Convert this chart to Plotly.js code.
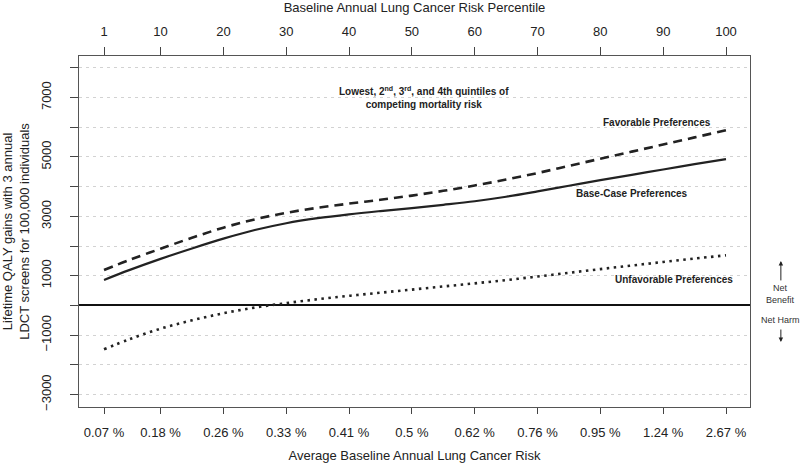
<!DOCTYPE html>
<html>
<head>
<meta charset="utf-8">
<script src="https://cdn.plot.ly/plotly-3.0.1.min.js"></script>
<style>
  html, body { margin: 0; padding: 0; background: #fff; }
  #plot { width: 800px; height: 465px; }
</style>
</head>
<body>
<div id="plot"></div>
<script>
// risk percentile (x) and the QALY gains
let percentiles = [1, 5, 10, 15, 20, 25, 30, 35, 40, 45, 50, 55, 60, 65, 70, 75, 80, 85, 90, 95, 100];
let baseCase = [860, 1190, 1570, 1920, 2250, 2540, 2770, 2940, 3070, 3180, 3280, 3390, 3510, 3660, 3840, 4030, 4220, 4400, 4580, 4760, 4930];
let favorable = [1195, 1530, 1910, 2280, 2620, 2900, 3120, 3290, 3430, 3560, 3700, 3860, 4040, 4240, 4460, 4700, 4940, 5180, 5420, 5660, 5900];
let unfavorable = [-1475, -1140, -780, -500, -260, -70, 80, 210, 325, 430, 535, 640, 745, 855, 975, 1100, 1225, 1345, 1465, 1580, 1690];

// tick labels
let pctTicks = [1, 10, 20, 30, 40, 50, 60, 70, 80, 90, 100];
let riskLabels = ["0.07 %", "0.18 %", "0.26 %", "0.33 %", "0.41 %", "0.5 %", "0.62 %", "0.76 %", "0.95 %", "1.24 %", "2.67 %"];
let yTicks = [-3000, -2000, -1000, 0, 1000, 2000, 3000, 4000, 5000, 6000, 7000, 8000];
let yLabels = ["\u22123000", "", "\u22121000", "", "1000", "", "3000", "", "5000", "", "7000", ""];

let font = "Liberation Sans, Arial, Helvetica, sans-serif";
let ink = "#222";

let favTrace = {
    x: percentiles, y: favorable,
    mode: "lines", type: "scatter",
    line: {color: ink, width: 2.6, dash: "9px,6px", shape: "spline", smoothing: 1},
    hoverinfo: "skip"
};
let baseTrace = {
    x: percentiles, y: baseCase,
    mode: "lines", type: "scatter",
    line: {color: ink, width: 2.2, shape: "spline", smoothing: 1},
    hoverinfo: "skip"
};
let unfavTrace = {
    x: percentiles, y: unfavorable,
    mode: "lines", type: "scatter",
    line: {color: ink, width: 2.6, dash: "2.5px,4.5px", shape: "spline", smoothing: 1},
    hoverinfo: "skip"
};
// invisible trace so the top axis gets drawn
let topTrace = {
    x: percentiles, y: baseCase, xaxis: "x2",
    mode: "none", type: "scatter", hoverinfo: "skip"
};

let xRange = [-2.98, 103.82];

let layout = {
    width: 800, height: 465,
    margin: {l: 79, r: 50, t: 56, b: 58},
    paper_bgcolor: "#fff", plot_bgcolor: "#fff",
    showlegend: false,
    font: {family: font, size: 13, color: ink},
    xaxis: {
        range: xRange,
        tickmode: "array", tickvals: pctTicks, ticktext: riskLabels,
        ticks: "outside", ticklen: 6, tickcolor: "#444", tickwidth: 1,
        ticklabelstandoff: 7,
        showgrid: false, zeroline: false,
        showline: true, linecolor: "#555", linewidth: 1, mirror: false,
        title: {text: "Average Baseline Annual Lung Cancer Risk", font: {size: 13}, standoff: 12}
    },
    xaxis2: {
        range: xRange, overlaying: "x", side: "top",
        tickmode: "array", tickvals: pctTicks,
        ticktext: pctTicks.map(String),
        ticks: "outside", ticklen: 8, tickcolor: "#444", tickwidth: 1,
        ticklabelstandoff: 6,
        showgrid: false, zeroline: false,
        showline: true, linecolor: "#555", linewidth: 1,
        title: {text: "Baseline Annual Lung Cancer Risk Percentile", font: {size: 13}, standoff: 9}
    },
    yaxis: {
        range: [-3418, 8400],
        tickmode: "array", tickvals: yTicks, ticktext: yLabels,
        tickangle: -90,
        ticks: "outside", ticklen: 8, tickcolor: "#444", tickwidth: 1,
        ticklabelstandoff: 14,
        showgrid: true, gridcolor: "#d2d2d2", gridwidth: 1, griddash: "3px,4px",
        zeroline: true, zerolinecolor: "#111", zerolinewidth: 2,
        showline: true, linecolor: "#555", linewidth: 1, mirror: true,
        title: {text: "Lifetime QALY gains with 3 annual<br>LDCT screens for 100,000 individuals", font: {size: 13}, standoff: 11}
    },
    annotations: [
        {xref: "x", yref: "y", x: 52, y: 7000, yanchor: "middle",
         text: "<b>Lowest, 2<sup>nd</sup>, 3<sup>rd</sup>, and 4th quintiles of<br>competing mortality risk</b>",
         showarrow: false, font: {size: 10, color: ink}},
        {xref: "x", yref: "y", x: 89, y: 6170, text: "<b>Favorable Preferences</b>",
         showarrow: false, font: {size: 10, color: ink}},
        {xref: "x", yref: "y", x: 85, y: 3770, text: "<b>Base-Case Preferences</b>",
         showarrow: false, font: {size: 10, color: ink}},
        {xref: "x", yref: "y", x: 91.7, y: 890, text: "<b>Unfavorable Preferences</b>",
         showarrow: false, font: {size: 10, color: ink}},
        {xref: "paper", yref: "y", x: 1.046, y: 370, xanchor: "center", text: "Net<br>Benefit",
         showarrow: false, font: {size: 9, color: "#333"}},
        {xref: "paper", yref: "y", x: 1.046, y: -490, xanchor: "center", text: "Net Harm",
         showarrow: false, font: {size: 9, color: "#333"}},
        {xref: "paper", yref: "y", x: 1.046, y: 1500, text: "",
         showarrow: true, ax: 0, ay: 21, arrowhead: 2, arrowsize: 0.9, arrowwidth: 1, arrowcolor: "#222"},
        {xref: "paper", yref: "y", x: 1.046, y: -1230, text: "",
         showarrow: true, ax: 0, ay: -14, arrowhead: 2, arrowsize: 0.9, arrowwidth: 1, arrowcolor: "#222"}
    ]
};

Plotly.newPlot("plot", [favTrace, baseTrace, unfavTrace, topTrace], layout, {staticPlot: true});
</script>
</body>
</html>
